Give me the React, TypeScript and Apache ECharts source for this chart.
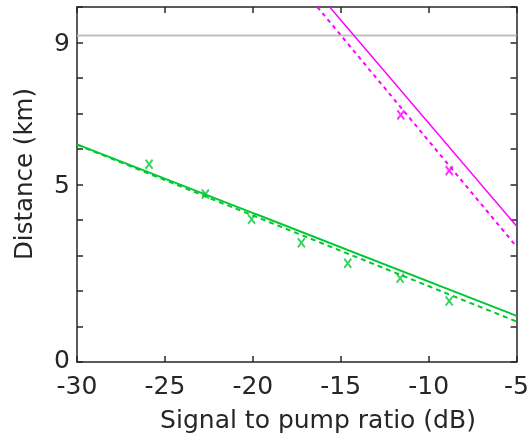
import React, { useEffect, useRef } from "react";
import * as echarts from "echarts";

const xTicks = [-30, -25, -20, -15, -10, -5];
const yLabelled = [0, 5, 9];

const referenceX = [-30, -5];
const referenceY = [9.2, 9.2];

const greenSolidX = [-30, -5];
const greenSolidY = [6.13, 1.3];
const greenDashedX = [-30, -5];
const greenDashedY = [6.12, 1.14];
const greenMarkX = [-25.9, -22.7, -20.07, -17.24, -14.6, -11.62, -8.83];
const greenMarkY = [5.57, 4.73, 4.02, 3.36, 2.78, 2.36, 1.72];

const magentaSolidX = [-15.63, -5];
const magentaSolidY = [10, 3.83];
const magentaDashedX = [-16.33, -5];
const magentaDashedY = [10, 3.25];
const magentaMarkX = [-11.58, -8.83];
const magentaMarkY = [6.96, 5.39];

const GREEN = "#00c832";
const MAGENTA = "#ff00ff";
const AXIS = "#262626";
const FONT = "DejaVu Sans";

const zip = (xs: number[], ys: number[]) => xs.map((x, i) => [x, ys[i]]);
const XMARK = "path://M0,0L10,14M10,0L0,14";

export default function App() {
  const ref = useRef<HTMLDivElement>(null);
  useEffect(() => {
    document.body.style.margin = "0";
    document.documentElement.style.overflow = "hidden";
    const chart = echarts.init(ref.current!, null, { renderer: "svg", width: 532, height: 435 });
    const axisCommon = {
      type: "value",
      axisLine: { show: true, onZero: false, lineStyle: { color: AXIS, width: 1.5 } },
      axisTick: { show: true, inside: true, length: 6, lineStyle: { color: AXIS, width: 1.5 } },
      splitLine: { show: false },
    };
    chart.setOption({
      animation: false,
      grid: { left: 77, right: 8, top: 7, bottom: 73, containLabel: false },
      xAxis: [
        {
          ...axisCommon,
          position: "bottom",
          min: -30,
          max: -5,
          interval: 5,
          axisLabel: {
            color: AXIS,
            fontFamily: FONT,
            fontSize: 25,
            lineHeight: 20,
            margin: 13,
            formatter: (v: number) => (xTicks.includes(v) ? String(v) : ""),
          },
        },
        {
          ...axisCommon,
          position: "top",
          min: -30,
          max: -5,
          interval: 5,
          axisLabel: { show: false },
        },
      ],
      yAxis: [
        {
          ...axisCommon,
          position: "left",
          min: 0,
          max: 10,
          interval: 1,
          axisLabel: {
            color: AXIS,
            fontFamily: FONT,
            fontSize: 25,
            lineHeight: 20,
            margin: 7,
            formatter: (v: number) =>
              v === 0 ? "{zero|0}" : yLabelled.includes(v) ? String(v) : "",
            rich: {
              zero: {
                fontFamily: FONT,
                fontSize: 25,
                lineHeight: 18,
                color: AXIS,
                padding: [0, 0, 6, 0],
              },
            },
          },
        },
        {
          ...axisCommon,
          position: "right",
          min: 0,
          max: 10,
          interval: 1,
          axisLabel: { show: false },
        },
      ],
      graphic: [
        {
          type: "text",
          x: 318,
          y: 419,
          style: {
            text: "Signal to pump ratio (dB)",
            fill: AXIS,
            font: `25px '${FONT}'`,
            textAlign: "center",
            textVerticalAlign: "middle",
          },
        },
        {
          type: "text",
          x: 23,
          y: 174,
          rotation: Math.PI / 2,
          style: {
            text: "Distance (km)",
            fill: AXIS,
            font: `24.5px '${FONT}'`,
            textAlign: "center",
            textVerticalAlign: "middle",
          },
        },
      ],
      series: [
        {
          type: "line",
          data: zip(referenceX, referenceY),
          showSymbol: false,
          lineStyle: { color: "#c0c0c0", width: 2 },
        },
        {
          type: "line",
          data: zip(greenSolidX, greenSolidY),
          showSymbol: false,
          lineStyle: { color: GREEN, width: 2 },
        },
        {
          type: "line",
          data: zip(greenDashedX, greenDashedY),
          showSymbol: false,
          lineStyle: { color: GREEN, width: 2, type: [5, 4] },
        },
        {
          type: "scatter",
          data: zip(greenMarkX, greenMarkY),
          symbol: XMARK,
          symbolSize: [7, 9],
          itemStyle: { color: "transparent", borderColor: GREEN, borderWidth: 2 },
        },
        {
          type: "line",
          data: zip(magentaSolidX, magentaSolidY),
          showSymbol: false,
          lineStyle: { color: MAGENTA, width: 1.5 },
        },
        {
          type: "line",
          data: zip(magentaDashedX, magentaDashedY),
          showSymbol: false,
          lineStyle: { color: MAGENTA, width: 2, type: [4, 4] },
        },
        {
          type: "scatter",
          data: zip(magentaMarkX, magentaMarkY),
          symbol: XMARK,
          symbolSize: [7, 9],
          itemStyle: { color: "transparent", borderColor: MAGENTA, borderWidth: 2 },
        },
      ],
    });
    return () => chart.dispose();
  }, []);
  return (
    <div
      ref={ref}
      style={{ position: "fixed", left: 0, top: 0, width: 532, height: 435 }}
    />
  );
}
